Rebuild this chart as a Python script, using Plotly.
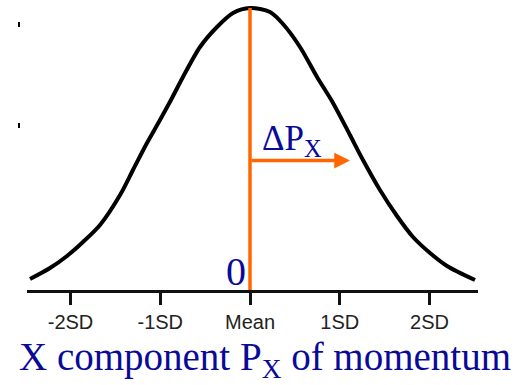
import plotly.graph_objects as go

# Bell curve of the momentum distribution, traced point by point (x in SD units)
curve_sd = [-2.451, -2.228, -2.039, -1.861, -1.671, -1.448, -1.304, -1.148, -1.003,
            -0.869, -0.747, -0.557, -0.368, -0.189, 0.0, 0.223, 0.368, 0.557, 0.747,
            0.925, 1.114, 1.259, 1.448, 1.638, 1.816, 2.006, 2.195, 2.507]
curve_density = [0.0156, 0.0311, 0.0481, 0.0679, 0.0920, 0.1344, 0.1698, 0.2080, 0.2405,
                 0.2716, 0.3014, 0.3438, 0.3721, 0.3919, 0.3990, 0.3933, 0.3763, 0.3438,
                 0.3014, 0.2646, 0.2193, 0.1839, 0.1415, 0.1047, 0.0750, 0.0523, 0.0340,
                 0.0141]

# Axis ticks
tick_vals = [-2, -1, 0, 1, 2]
tick_text = ["-2SD", "-1SD", "Mean", "1SD", "2SD"]
y_tick_vals = [0.375, 0.233]

# Mean line and the spread arrow
mean_x = 0.0
peak_density = 0.399
spread_end = 1.114
spread_level = 0.1832

ORANGE = "#FF6600"
NAVY = "#0A0A99"
SERIF = "Liberation Serif, Times New Roman, serif"

fig = go.Figure()

fig.add_trace(go.Scatter(
    x=curve_sd, y=curve_density, mode="lines",
    line=dict(color="black", width=4, shape="spline", smoothing=0.8),
    hoverinfo="skip", cliponaxis=False,
))

fig.add_trace(go.Scatter(
    x=[mean_x, mean_x], y=[0, peak_density], mode="lines",
    line=dict(color=ORANGE, width=3.5), hoverinfo="skip", cliponaxis=False,
))

fig.add_annotation(
    x=spread_end, y=spread_level, ax=mean_x, ay=spread_level,
    xref="x", yref="y", axref="x", ayref="y",
    text="", showarrow=True, arrowhead=2, arrowsize=0.9, arrowwidth=3.5,
    arrowcolor=ORANGE,
)

fig.add_annotation(
    x=0.11, y=0.212, xref="x", yref="y", xanchor="left", yanchor="middle",
    text="ΔP<sub>X</sub>", showarrow=False,
    font=dict(family=SERIF, size=35, color=NAVY),
)

fig.add_annotation(
    x=-0.02, y=0, xref="x", yref="y", xanchor="right", yanchor="bottom",
    yshift=-6, text="0", showarrow=False,
    font=dict(family=SERIF, size=40, color=NAVY),
)

fig.add_annotation(
    x=0.535, y=-0.148, xref="paper", yref="paper", xanchor="center", yanchor="top",
    text="X component P<sub>X</sub> of momentum", showarrow=False,
    font=dict(family=SERIF, size=39, color=NAVY),
)

fig.update_layout(
    width=523, height=385,
    margin=dict(l=20, r=45, t=0, b=95),
    paper_bgcolor="white", plot_bgcolor="white",
    showlegend=False,
    xaxis=dict(
        domain=[7 / 458, 1], range=[-2.4847, 2.5404],
        showgrid=False, zeroline=False,
        showline=True, linewidth=3, linecolor="#111",
        ticks="outside", ticklen=12, tickwidth=3, tickcolor="#111",
        tickvals=tick_vals, ticktext=tick_text,
        tickfont=dict(family="Liberation Sans, Arial, sans-serif", size=20, color="#222"),
        fixedrange=True,
    ),
    yaxis=dict(
        range=[0, 0.4103], anchor="free", position=0,
        showgrid=False, zeroline=False, showline=False,
        ticks="outside", ticklen=2, tickwidth=5, tickcolor="black",
        tickvals=y_tick_vals, showticklabels=False,
        fixedrange=True,
    ),
)

fig.write_html("out.html")
